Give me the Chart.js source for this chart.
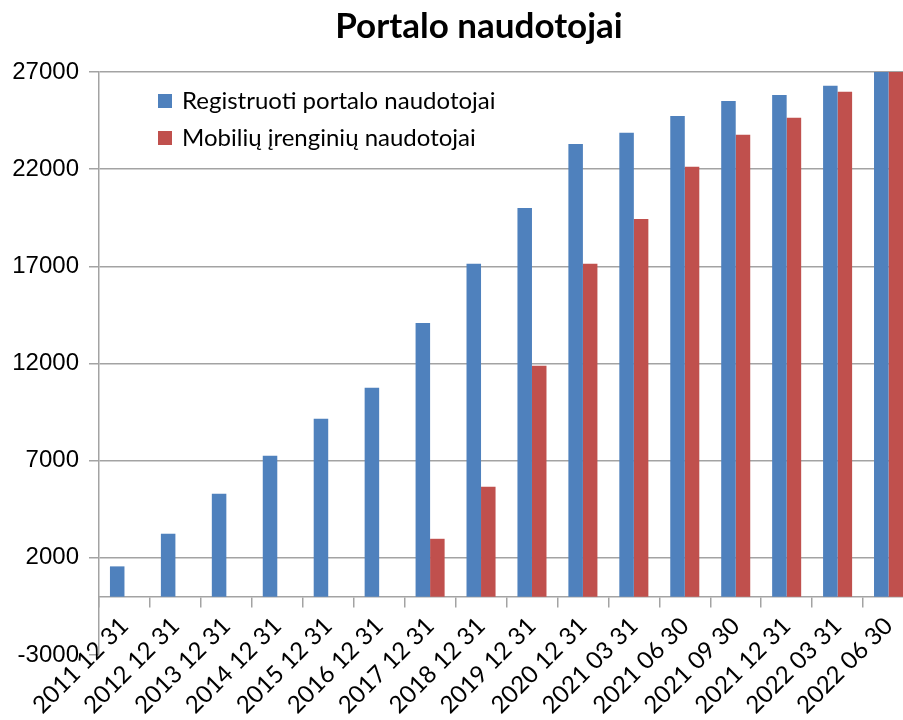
<!DOCTYPE html>
<html>
<head>
<meta charset="utf-8">
<title>Portalo naudotojai</title>
<style>
	html, body { margin: 0; padding: 0; background: #fff; overflow: hidden; }
</style>
</head>
<body>

<canvas id="usersChart" width="958" height="720"></canvas>

<script src="https://cdn.jsdelivr.net/npm/chart.js@4/dist/chart.umd.min.js"></script>

<script>
	const categories = ["2011 12 31", "2012 12 31", "2013 12 31", "2014 12 31", "2015 12 31", "2016 12 31",
		"2017 12 31", "2018 12 31", "2019 12 31", "2020 12 31", "2021 03 31", "2021 06 30",
		"2021 09 30", "2021 12 31", "2022 03 31", "2022 06 30"]
	const registered = [1560, 3240, 5300, 7250, 9160, 10750, 14090, 17130, 20000, 23300, 23870, 24740, 25510, 25820, 26290, 27400]
	const mobile = [null, null, null, null, null, null, 2980, 5660, 11880, 17130, 19440, 22120, 23770, 24640, 25980, 27400]
	const yTicks = [-3000, 2000, 7000, 12000, 17000, 22000, 27000]

	const gridGrey = "#a3a3a3"

	// draw the legend inside the plot, top left, like the original
	const legendInPlot = {
		id: "legendInPlot",
		afterDatasetsDraw(chart) {
			const ctx = chart.ctx
			ctx.save()
			ctx.font = "24px Lato"
			ctx.textBaseline = "middle"
			chart.data.datasets.forEach((ds, i) => {
				const y = 101 + i * 37
				ctx.fillStyle = ds.backgroundColor
				ctx.fillRect(158, y - 7, 14, 14)
				ctx.fillStyle = "#000"
				ctx.fillText(ds.label, 182, y)
			})
			ctx.restore()
		}
	}

	// the title is centred on the whole canvas, not on the padded box
	const centreTitle = {
		id: "centreTitle",
		afterLayout(chart) {
			if (chart.titleBlock) {
				chart.titleBlock.left = 0
				chart.titleBlock.right = chart.width
			}
		}
	}

	const ctx = document.getElementById("usersChart")
	const usersChart = new Chart(ctx, {
		type: "bar",
		data: {
			labels: categories,
			datasets: [{
				label: "Registruoti portalo naudotojai",
				data: registered,
				backgroundColor: "#4f81bd",
			}, {
				label: "Mobilių įrenginių naudotojai",
				data: mobile,
				backgroundColor: "#c0504d",
			}]
		},
		options: {
			responsive: false,
			animation: false,
			categoryPercentage: 0.57,
			barPercentage: 1.0,
			layout: { padding: { left: 0, right: 44, top: 0, bottom: 65 } },
			plugins: {
				legend: { display: false },
				tooltip: { enabled: false },
				title: {
					display: true,
					text: "Portalo naudotojai",
					color: "#000",
					font: { family: "Lato", size: 35, weight: "bold" },
					padding: { top: 6, bottom: 24 }
				}
			},
			scales: {
				x: {
					position: { y: 0 },
					grid: {
						offset: true,
						drawOnChartArea: false,
						tickLength: 10,
						color: gridGrey,
						lineWidth: 1.5
					},
					border: { color: gridGrey, width: 1.5 },
					ticks: {
						color: "#000",
						font: { family: "Lato", size: 24 },
						minRotation: 45,
						maxRotation: 45,
						autoSkip: false,
						padding: 5
					}
				},
				y: {
					min: -3000,
					max: 27000,
					afterBuildTicks(scale) {
						scale.ticks = yTicks.map(v => ({ value: v }))
					},
					afterFit(scale) {
						scale.width = 99
					},
					grid: {
						color: c => c.tick && c.tick.value === -3000 ? "rgba(0,0,0,0)" : gridGrey,
						tickColor: gridGrey,
						tickLength: 10,
						lineWidth: 1.5
					},
					border: { color: gridGrey, width: 1.5 },
					ticks: {
						color: "#000",
						font: { family: "Liberation Sans", size: 24 },
						padding: 10,
						callback: v => String(v)
					}
				}
			}
		},
		plugins: [legendInPlot, centreTitle]
	})
</script>
</body>
</html>
